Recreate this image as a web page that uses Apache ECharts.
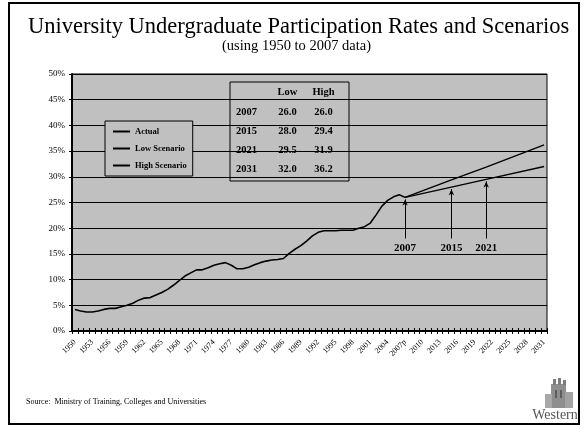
<!DOCTYPE html>
<html>
<head>
<meta charset="utf-8">
<title>University Undergraduate Participation Rates and Scenarios</title>
<script src="https://cdn.jsdelivr.net/npm/echarts@6/dist/echarts.min.js"></script>
<style>
  html, body { margin: 0; padding: 0; background: #ffffff; }
  #chart { width: 587px; height: 429px; }
</style>
</head>
<body>
<div id="chart"></div>
<script>
// Years on the category axis; 2007 is the preliminary year
const firstYear = 1950;
const lastYear = 2031;
const categories = [];
for (let y = firstYear; y <= lastYear; y++) {
  categories.push(y === 2007 ? '2007p' : String(y));
}

// Actual participation rate (%), 1950 to 2007
const actualRates = [
  4.2, 3.9, 3.7, 3.7, 3.9, 4.2, 4.4, 4.4, 4.7, 5.0,
  5.4, 6.0, 6.4, 6.5, 7.0, 7.5, 8.1, 8.9, 9.8, 10.7,
  11.3, 11.9, 11.9, 12.3, 12.8, 13.1, 13.3, 12.8, 12.1, 12.1,
  12.4, 12.9, 13.3, 13.6, 13.8, 13.9, 14.1, 15.1, 15.9, 16.6,
  17.5, 18.5, 19.2, 19.5, 19.5, 19.5, 19.6, 19.6, 19.6, 20.0,
  20.3, 21.0, 22.6, 24.3, 25.4, 26.1, 26.5, 26.0
];

// Scenario table
const scenarioYears = [2007, 2015, 2021, 2031];
const lowScenario = [26.0, 28.0, 29.5, 32.0];
const highScenario = [26.0, 29.4, 31.9, 36.2];

// Years pointed out with arrows below the low scenario
const arrowYears = [2007, 2015, 2021];

const FONT = "'Liberation Serif', 'Times New Roman', serif";

function catOf(year) {
  return categories[year - firstYear];
}

const actualData = categories.map((c, i) => (i < actualRates.length ? actualRates[i] : null));

function scenarioData(values) {
  const out = categories.map(() => null);
  scenarioYears.forEach((yr, k) => { out[yr - firstYear] = values[k]; });
  return out;
}

const arrowLines = arrowYears.map(yr => {
  const low = lowScenario[scenarioYears.indexOf(yr)];
  return [
    { coord: [catOf(yr), 18], name: String(yr) },
    { coord: [catOf(yr), low - 0.4] }
  ];
});

// Table drawn inside the plot area
const tableX = 230, tableY = 82, tableW = 119, tableH = 99;
const colX = [246.5, 287.5, 323.5];
const rowY = [112, 131, 150, 169];
const tableFont = 'bold 10.5px ' + FONT;

const tableGraphics = [
  {
    type: 'rect',
    shape: { x: tableX, y: tableY, width: tableW, height: tableH },
    style: { fill: 'none', stroke: '#000', lineWidth: 1 },
    z: 10
  },
  { type: 'text', x: colX[1], y: 92, style: { text: 'Low', font: tableFont, fill: '#000', textAlign: 'center', textVerticalAlign: 'middle' }, z: 10 },
  { type: 'text', x: colX[2], y: 92, style: { text: 'High', font: tableFont, fill: '#000', textAlign: 'center', textVerticalAlign: 'middle' }, z: 10 }
];
scenarioYears.forEach((yr, k) => {
  const cells = [String(yr), lowScenario[k].toFixed(1), highScenario[k].toFixed(1)];
  cells.forEach((t, j) => {
    tableGraphics.push({
      type: 'text', x: colX[j], y: rowY[k],
      style: { text: t, font: tableFont, fill: '#000', textAlign: 'center', textVerticalAlign: 'middle' },
      z: 10
    });
  });
});

// Tower logo and name in the lower right corner
const logoGraphics = [
  { type: 'rect', shape: { x: 551, y: 384, width: 15, height: 24 }, style: { fill: '#8e8e8e' }, z: 10 },
  { type: 'rect', shape: { x: 553, y: 379, width: 3, height: 6 }, style: { fill: '#7c7c7c' }, z: 10 },
  { type: 'rect', shape: { x: 558, y: 378, width: 3, height: 7 }, style: { fill: '#7c7c7c' }, z: 10 },
  { type: 'rect', shape: { x: 563, y: 380, width: 3, height: 5 }, style: { fill: '#7c7c7c' }, z: 10 },
  { type: 'rect', shape: { x: 545, y: 394, width: 7, height: 14 }, style: { fill: '#a8a8a8' }, z: 10 },
  { type: 'rect', shape: { x: 565, y: 392, width: 8, height: 16 }, style: { fill: '#a2a2a2' }, z: 10 },
  { type: 'rect', shape: { x: 555, y: 390, width: 2, height: 8 }, style: { fill: '#5e5e5e' }, z: 11 },
  { type: 'rect', shape: { x: 560, y: 390, width: 2, height: 8 }, style: { fill: '#5e5e5e' }, z: 11 },
  {
    type: 'text', x: 555, y: 415,
    style: { text: 'Western', font: '14px ' + FONT, fill: '#555', textAlign: 'center', textVerticalAlign: 'middle' },
    z: 10
  }
];

const chart = echarts.init(document.getElementById('chart'), null, { renderer: 'canvas' });

chart.setOption({
  backgroundColor: '#ffffff',
  animation: false,
  title: [
    {
      text: 'University Undergraduate Participation Rates and Scenarios',
      left: 28,
      top: 16,
      padding: 0,
      textStyle: { fontFamily: FONT, fontSize: 22.5, fontWeight: 'normal', color: '#000' }
    },
    {
      text: '(using 1950 to 2007 data)',
      left: 222,
      top: 39,
      padding: 0,
      textStyle: { fontFamily: FONT, fontSize: 14.5, fontWeight: 'normal', color: '#000' }
    }
  ],
  legend: {
    data: ['Actual', 'Low Scenario', 'High Scenario'],
    orient: 'vertical',
    left: 105,
    top: 121,
    padding: [6, 6, 6, 7],
    itemGap: 8,
    itemWidth: 17,
    itemHeight: 8,
    backgroundColor: '#c0c0c0',
    borderColor: '#000',
    borderWidth: 1,
    itemStyle: { color: 'rgba(0,0,0,0)', borderWidth: 0, opacity: 0 },
    textStyle: { fontFamily: FONT, fontSize: 8.5, fontWeight: 'bold', color: '#000' }
  },
  grid: {
    left: 72, right: 40, top: 74, bottom: 98,
    show: true,
    backgroundColor: '#c0c0c0',
    borderColor: '#000',
    borderWidth: 1
  },
  xAxis: [
    {
      type: 'category',
      data: categories,
      boundaryGap: true,
      axisLine: { lineStyle: { color: '#000', width: 2 } },
      axisTick: { show: true, interval: 0, length: 3, lineStyle: { color: '#000' } },
      axisLabel: {
        interval: 2,
        rotate: 45,
        margin: 10,
        fontFamily: FONT,
        fontSize: 8,
        color: '#000'
      },
      splitLine: { show: false }
    },
    {
      type: 'category',
      data: categories,
      position: 'bottom',
      boundaryGap: true,
      axisLine: { show: false },
      axisTick: { show: true, inside: true, interval: 0, length: 3, lineStyle: { color: '#000' } },
      axisLabel: { show: false },
      splitLine: { show: false }
    }
  ],
  yAxis: {
    type: 'value',
    min: 0,
    max: 50,
    interval: 5,
    axisLine: { show: true, lineStyle: { color: '#000', width: 2 } },
    axisTick: { show: true, length: 3, lineStyle: { color: '#000' } },
    axisLabel: {
      formatter: '{value}%',
      margin: 7,
      fontFamily: FONT,
      fontSize: 9,
      color: '#000'
    },
    splitLine: { show: true, lineStyle: { color: '#000', width: 1 } }
  },
  series: [
    {
      name: 'Actual',
      type: 'line',
      data: actualData,
      symbol: 'none',
      lineStyle: { color: '#000', width: 1.6 },
      itemStyle: { color: '#000' },
      z: 5
    },
    {
      name: 'Low Scenario',
      type: 'line',
      data: scenarioData(lowScenario),
      connectNulls: true,
      symbol: 'none',
      lineStyle: { color: '#000', width: 1.4 },
      itemStyle: { color: '#000' },
      z: 5,
      markLine: {
        silent: true,
        symbol: ['none', 'arrow'],
        symbolSize: [4, 6],
        lineStyle: { color: '#000', width: 1, type: 'solid' },
        label: {
          show: true,
          position: 'start',
          formatter: '{b}',
          distance: 4,
          fontFamily: FONT,
          fontSize: 11,
          fontWeight: 'bold',
          color: '#000'
        },
        data: arrowLines
      }
    },
    {
      name: 'High Scenario',
      type: 'line',
      data: scenarioData(highScenario),
      connectNulls: true,
      symbol: 'none',
      lineStyle: { color: '#000', width: 1.4 },
      itemStyle: { color: '#000' },
      z: 5
    }
  ],
  graphic: [
    {
      type: 'rect',
      shape: { x: 9, y: 3, width: 570, height: 421 },
      style: { fill: 'none', stroke: '#000', lineWidth: 2 },
      z: 10
    },
    {
      type: 'text', x: 26, y: 402,
      style: {
        text: 'Source:  Ministry of Training, Colleges and Universities',
        font: '8px ' + FONT, fill: '#000', textVerticalAlign: 'middle'
      },
      z: 10
    }
  ].concat(tableGraphics, logoGraphics)
});
</script>
</body>
</html>
